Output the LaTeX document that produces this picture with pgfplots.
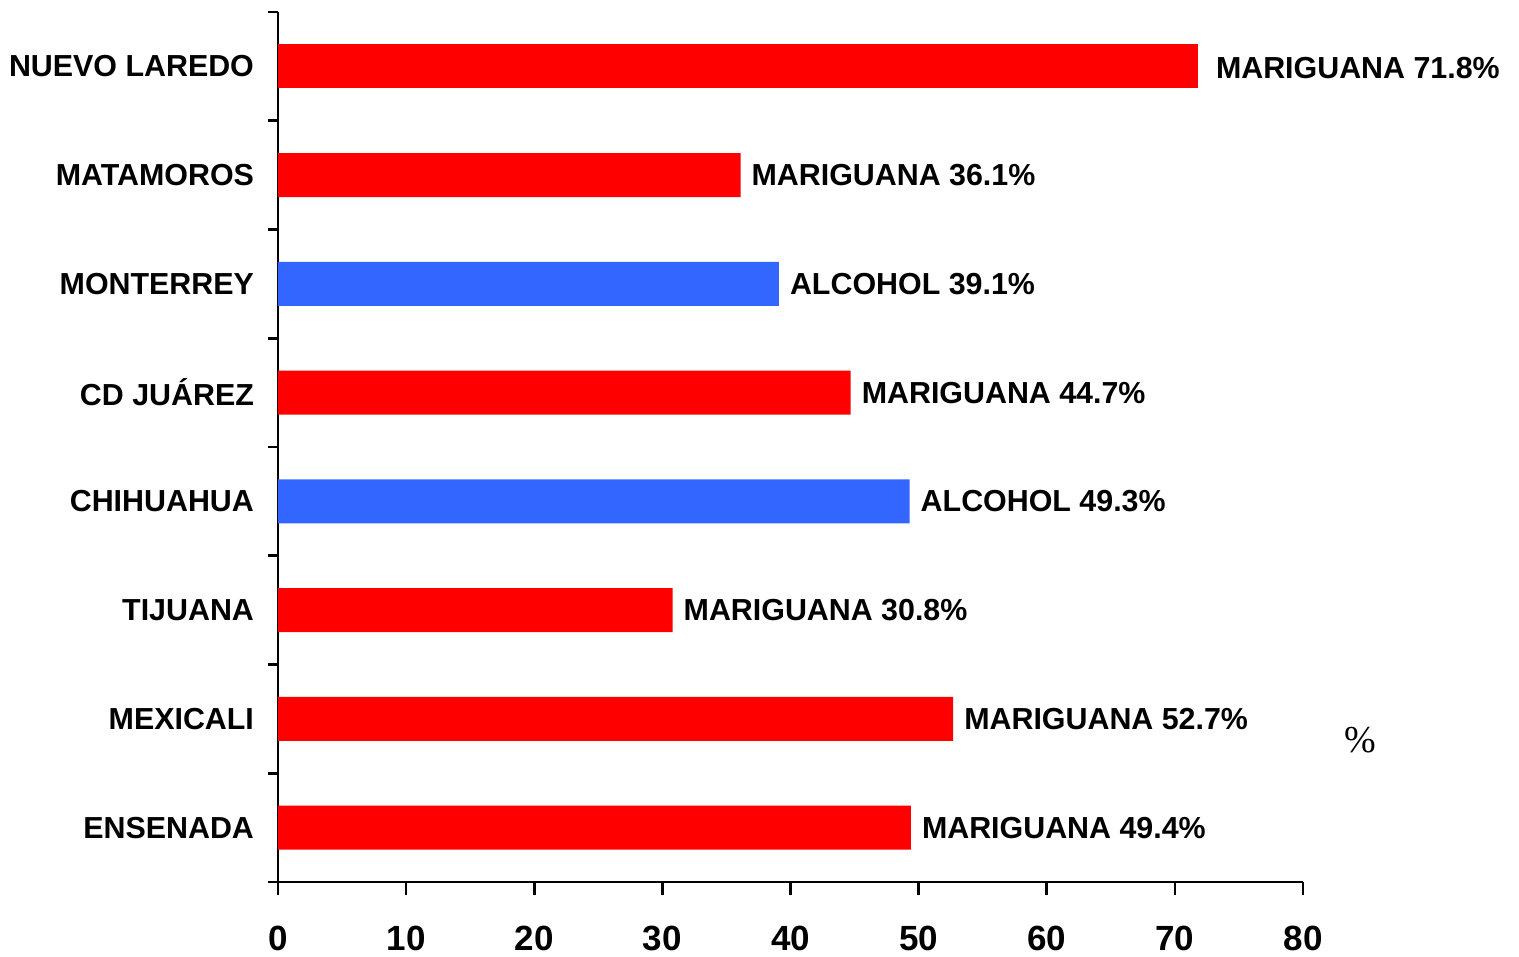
\documentclass[border=0pt]{standalone}
\usepackage{pgfplots}
\pgfplotsset{compat=1.18}
\usepackage{fontspec}
\setmainfont{Liberation Sans}
\newfontfamily\serifpct{Liberation Serif}
\definecolor{barred}{RGB}{255,0,0}
\definecolor{barblue}{RGB}{51,102,255}
\begin{document}
\begin{tikzpicture}
\path[use as bounding box] (-139pt,-37.5pt) rectangle (620.5pt,441pt);
\begin{axis}[
  at={(0,0)}, anchor=south west,
  scale only axis,
  width=512.5pt, height=435pt,
  xmin=0, xmax=80, ymin=-0.5, ymax=7.5,
  axis lines=left,
  axis line style={-, line width=1.3pt},
  xtick={0,10,...,80},
  ytick={0,...,7},
  yticklabels={ENSENADA,MEXICALI,TIJUANA,CHIHUAHUA,CD JUÁREZ,MONTERREY,MATAMOROS,NUEVO LAREDO},
  minor ytick={-0.5,0.5,...,7.5},
  major y tick style={draw=none},
  tick align=outside,
  major tick length=6.5pt,
  minor tick length=5pt,
  tick style={line width=1.3pt, black},
  /pgf/number format/assume math mode=true,
  xticklabel style={font=\bfseries\fontsize{17.5}{20}\selectfont, yshift=-12pt},
  yticklabel style={font=\bfseries\fontsize{15.2}{18}\selectfont, xshift=-2pt},
  xbar, bar width=22pt,
  clip=false,
  nodes near coords style={font=\bfseries\fontsize{15.2}{18}\selectfont, black, anchor=west, xshift=2pt},
]
\addplot[fill=barred, draw=none, bar shift=0pt,
  nodes near coords={MARIGUANA \pgfmathprintnumber[fixed,precision=1,fixed zerofill]{\pgfplotspointmeta}\%},
  nodes near coords style={xshift=3.5pt, yshift=-1pt}]
  coordinates {(71.8,7)};
\addplot[fill=barred, draw=none, bar shift=0pt,
  nodes near coords={MARIGUANA \pgfmathprintnumber[fixed,precision=1,fixed zerofill]{\pgfplotspointmeta}\%}]
  coordinates {(36.1,6) (44.7,4) (30.8,2) (52.7,1) (49.4,0)};
\addplot[fill=barblue, draw=none, bar shift=0pt,
  nodes near coords={ALCOHOL \pgfmathprintnumber[fixed,precision=1,fixed zerofill]{\pgfplotspointmeta}\%}]
  coordinates {(39.1,5) (49.3,3)};
\node[font=\serifpct\fontsize{19}{22}\selectfont] at (axis cs:84.45,0.806) {\%};
\end{axis}
\end{tikzpicture}
\end{document}
